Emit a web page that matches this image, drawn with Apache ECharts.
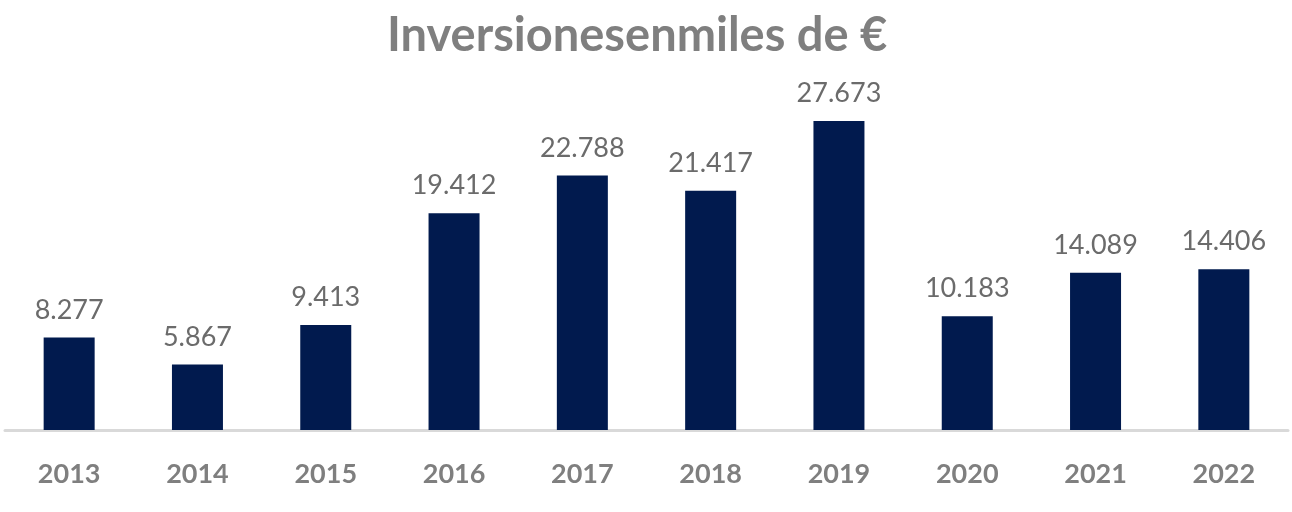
<!DOCTYPE html>
<html lang="es" style="height: 100%">
<head>
    <meta charset="utf-8">
</head>
<body style="height: 100%; margin: 0; background: #fff">
<div id="main" style="width: 1292px; height: 512px"></div>

<script type="text/javascript" src="https://fastly.jsdelivr.net/npm/echarts@6/dist/echarts.min.js"></script>

<script type="text/javascript">
    var years = ['2013', '2014', '2015', '2016', '2017', '2018', '2019', '2020', '2021', '2022'];
    var inversiones = [8277, 5867, 9413, 19412, 22788, 21417, 27673, 10183, 14089, 14406];

    var chartDom = document.getElementById('main');
    var myChart = echarts.init(chartDom);
    var option;

    function formatMiles(v) {
        return String(v).replace(/\B(?=(\d{3})+(?!\d))/g, '.');
    }

    option = {
        animation: false,
        title: {
            text: 'Inversionesenmiles de €',
            left: 382,
            top: 7,
            textStyle: {
                fontFamily: 'Lato',
                fontWeight: 'bold',
                fontSize: 47,
                color: '#7f7f7f'
            }
        },
        grid: {
            left: 5,
            right: 4,
            top: 95,
            bottom: 82
        },
        xAxis: {
            type: 'category',
            data: years,
            axisLine: { lineStyle: { color: '#d9d9d9', width: 3 } },
            axisTick: { show: false },
            axisLabel: {
                margin: 31,
                fontFamily: 'Lato',
                fontWeight: 'bold',
                fontSize: 27,
                color: '#7f7f7f'
            }
        },
        yAxis: {
            type: 'value',
            min: 0,
            max: 30000,
            show: false,
            splitLine: { show: false }
        },
        series: [{
            type: 'bar',
            data: inversiones,
            barWidth: 51,
            itemStyle: { color: '#011a4e' },
            label: {
                show: true,
                position: 'top',
                distance: 14,
                fontFamily: 'Lato',
                fontSize: 27,
                color: '#6b6b6b',
                formatter: function (p) { return formatMiles(p.value); }
            }
        }]
    };

    option && myChart.setOption(option);
</script>
</body>
</html>
